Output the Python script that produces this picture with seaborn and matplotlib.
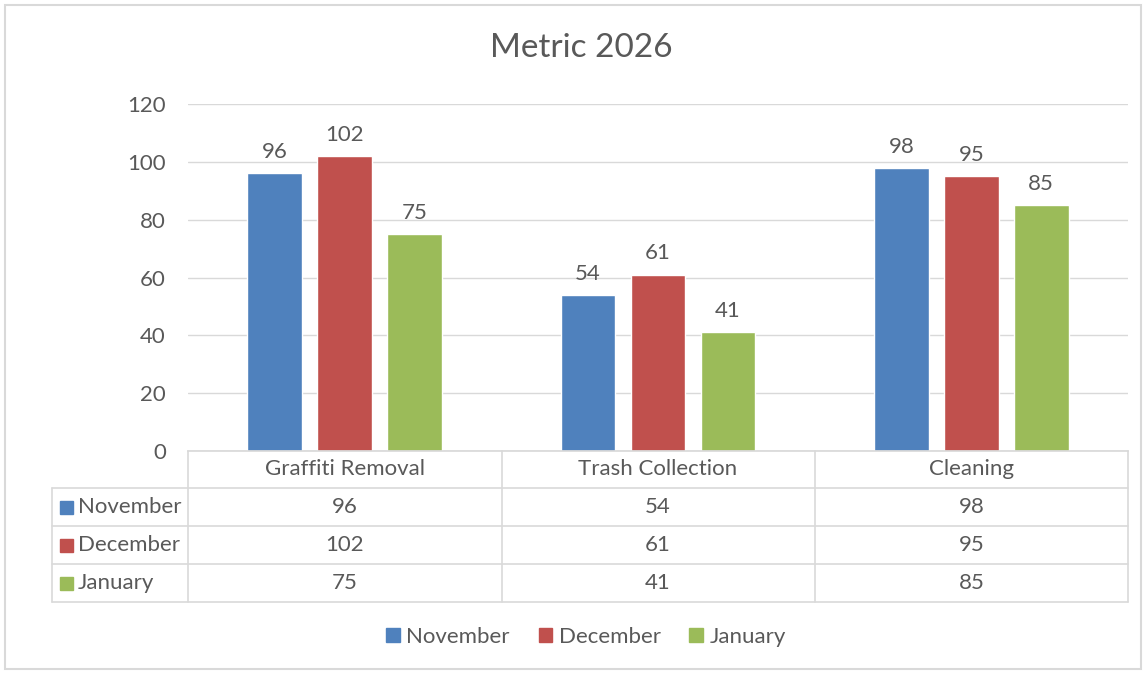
import matplotlib
matplotlib.use("Agg")
import matplotlib.pyplot as plt
from matplotlib.lines import Line2D
from matplotlib.patches import Rectangle, Patch
import seaborn as sns
import pandas as pd

categories = ["Graffiti Removal", "Trash Collection", "Cleaning"]
months = ["November", "December", "January"]
november = [96, 54, 98]
december = [102, 61, 95]
january = [75, 41, 85]
yticks = [0, 20, 40, 60, 80, 100, 120]

COLORS = ["#4F81BD", "#C0504D", "#9BBB59"]
TEXT = "#595959"
GRID = "#D9D9D9"
FS = 16

series = [november, december, january]
df = pd.DataFrame({
    "category": [c for vals in series for c in categories],
    "month": [m for m, vals in zip(months, series) for _ in vals],
    "value": [v for vals in series for v in vals],
})

sns.set_theme(style="white")
plt.rcParams["font.family"] = ["Lato", "DejaVu Sans"]

fig = plt.figure(figsize=(11.45, 6.73), dpi=100)
W, H = 1145, 673
ax = fig.add_axes([188 / W, 1 - 451 / H, 940 / W, 347 / H])

sns.barplot(data=df, x="category", y="value", hue="month", hue_order=months,
            palette=COLORS, width=0.67, gap=0.215, saturation=1,
            legend=False, ax=ax)

for cont in ax.containers:
    ax.bar_label(cont, padding=8, fontsize=FS, color=TEXT)

ax.set_xlim(-0.5, 2.5)
ax.set_ylim(0, 120)
ax.set_yticks(yticks)
ax.set_yticklabels([str(t) for t in yticks], fontsize=FS, color=TEXT)
ax.tick_params(axis="y", length=0, pad=16)
ax.set_xticks([])
ax.set_xlabel("")
ax.set_ylabel("")
ax.grid(axis="y", color=GRID, linewidth=1)
ax.set_axisbelow(True)
for s in ["top", "right", "left"]:
    ax.spines[s].set_visible(False)
ax.spines["bottom"].set_color(GRID)

# data table under the axis
rows_y = [-0.1066, -0.2161, -0.3256, -0.4352]
text_y = [-0.0533, -0.1614, -0.2709, -0.3804]
left = (52 - 188) / 940
for y in rows_y:
    ax.add_line(Line2D([left, 1], [y, y], transform=ax.transAxes,
                       color=GRID, lw=1.2, clip_on=False))
for x in [0, 314 / 940, 627 / 940, 1]:
    ax.add_line(Line2D([x, x], [0, rows_y[-1]], transform=ax.transAxes,
                       color=GRID, lw=1.2, clip_on=False))
ax.add_line(Line2D([left, left], [rows_y[0], rows_y[-1]], transform=ax.transAxes,
                   color=GRID, lw=1.2, clip_on=False))

xform = ax.get_xaxis_transform()
for i, cat in enumerate(categories):
    ax.text(i, text_y[0], cat, transform=xform, ha="center", va="center",
            fontsize=FS, color=TEXT)
    for r, vals in enumerate(series):
        ax.text(i, text_y[r + 1], str(vals[i]), transform=xform, ha="center",
                va="center", fontsize=FS, color=TEXT)

for r, (m, c) in enumerate(zip(months, COLORS)):
    y = text_y[r + 1]
    ax.add_patch(Rectangle(((60 - 188) / 940, y - 0.019), 13 / 940, 13 / 347,
                           transform=ax.transAxes, color=c, clip_on=False))
    ax.text((78 - 188) / 940, y, m, transform=ax.transAxes, ha="left",
            va="center", fontsize=FS, color=TEXT)

fig.text(581 / W, 1 - 48 / H, "Metric 2026", ha="center", va="center",
         fontsize=24, color=TEXT)

handles = [Patch(facecolor=c, edgecolor=c) for c in COLORS]
fig.legend(handles, months, loc="center", bbox_to_anchor=(586 / W, 1 - 637 / H),
           ncol=3, frameon=False, fontsize=FS, handlelength=0.6,
           handleheight=0.6, handletextpad=0.3, columnspacing=1.3,
           labelcolor=TEXT)

fig.add_artist(Rectangle((5 / W, 4 / H), 1136 / W, 664 / H, transform=fig.transFigure,
                         fill=False, edgecolor=GRID, lw=1.5))

fig.savefig("out.png", dpi=100)
